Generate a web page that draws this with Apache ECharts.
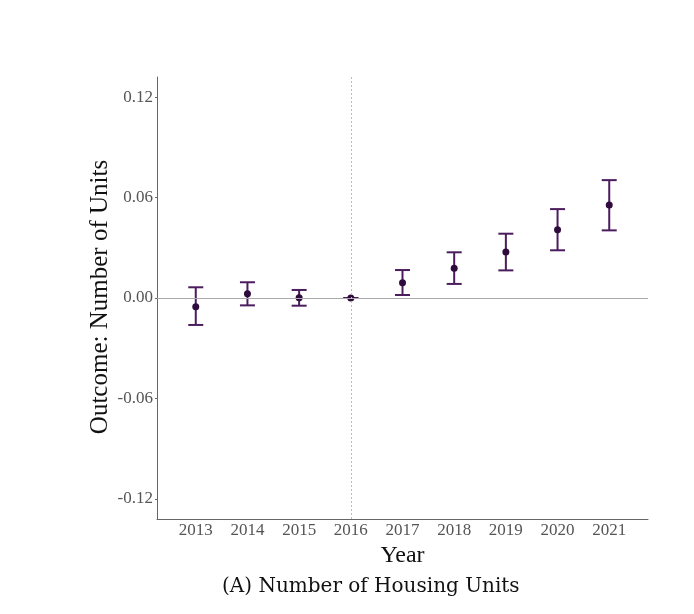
<!DOCTYPE html>
<html><head><meta charset="utf-8">
<script src="https://cdn.jsdelivr.net/npm/echarts@6/dist/echarts.min.js"></script>
<style>html,body{margin:0;padding:0;background:#fff}#c{width:694px;height:614px}</style>
</head><body><div id="c"></div>
<script>
const years = [2013, 2014, 2015, 2016, 2017, 2018, 2019, 2020, 2021];
const estimates = [-0.0052, 0.0026, 0.0002, 0.0, 0.0091, 0.0177, 0.0275, 0.0408, 0.0555];
const lowerCI = [-0.0161, -0.0044, -0.0046, 0.0, 0.0018, 0.0084, 0.0165, 0.0285, 0.0404];
const upperCI = [0.0064, 0.0094, 0.0048, 0.0, 0.0167, 0.0273, 0.0384, 0.0531, 0.0704];
const yTicks = [-0.12, -0.06, 0.00, 0.06, 0.12];
const yTickLabels = ['-0.12', '-0.06', '0.00', '0.06', '0.12'];
const eventYear = 2016;
const yTitle = 'Outcome: Number of Units';
const xTitle = 'Year';
const caption = '(A) Number of Housing Units';

const barColor = '#4b1d5e';
const pointColor = '#2e0b3c';
const serif = '"Liberation Serif", "Times New Roman", serif';

const chart = echarts.init(document.getElementById('c'));
const ciData = years.map((y, i) => [y, lowerCI[i], upperCI[i]]);

chart.setOption({
  animation: false,
  grid: { left: 157, right: 46, top: 77, bottom: 95 },
  xAxis: {
    type: 'value', min: 2012.25, max: 2021.75,
    name: xTitle, nameLocation: 'middle', nameGap: 24,
    nameTextStyle: { fontFamily: serif, fontSize: 24, color: '#111' },
    axisLine: { show: true, onZero: false, lineStyle: { color: '#666', width: 1 } },
    axisTick: { show: false },
    splitLine: { show: false },
    axisLabel: { customValues: years, formatter: v => String(v), fontFamily: serif, fontSize: 17, color: '#555', margin: 3 }
  },
  yAxis: {
    type: 'value', min: -0.132, max: 0.132,
    axisLine: { show: true, onZero: false, lineStyle: { color: '#666', width: 1 } },
    axisTick: { show: true, customValues: yTicks, length: 2, lineStyle: { color: '#666' } },
    splitLine: { show: false },
    axisLabel: {
      customValues: yTicks, fontFamily: serif, fontSize: 17, color: '#555', margin: 4,
      formatter: v => { const i = yTicks.findIndex(t => Math.abs(t - v) < 1e-9); return i >= 0 ? yTickLabels[i] : ''; }
    }
  },
  graphic: [
    {
      type: 'text', x: 100, y: 297, rotation: Math.PI / 2,
      style: { text: yTitle, font: '25px ' + serif, fill: '#111', align: 'center', verticalAlign: 'middle' }
    },
    {
      type: 'text', left: 222, top: 577,
      style: { text: caption, font: '20px "DejaVu Serif", serif', fill: '#111' }
    }
  ],
  series: [
    {
      type: 'line', data: [], silent: true,
      markLine: {
        silent: true, symbol: 'none', label: { show: false },
        data: [
          { yAxis: 0, lineStyle: { color: '#aaa', width: 1, type: 'solid' } },
          { xAxis: eventYear, lineStyle: { color: '#bbb', width: 1, type: [2, 2] } }
        ]
      }
    },
    {
      type: 'custom', data: ciData,
      encode: { x: 0, y: [1, 2] },
      renderItem: (params, api) => {
        const x = api.value(0);
        const lo = api.coord([x, api.value(1)]);
        const hi = api.coord([x, api.value(2)]);
        const hw = 7.5;
        const st = { stroke: barColor, lineWidth: 2, fill: null };
        return {
          type: 'group',
          children: [
            { type: 'line', shape: { x1: lo[0], y1: lo[1], x2: hi[0], y2: hi[1] }, style: st },
            { type: 'line', shape: { x1: lo[0] - hw, y1: lo[1], x2: lo[0] + hw, y2: lo[1] }, style: st },
            { type: 'line', shape: { x1: hi[0] - hw, y1: hi[1], x2: hi[0] + hw, y2: hi[1] }, style: st }
          ]
        };
      },
      z: 3
    },
    {
      type: 'scatter', data: years.map((y, i) => [y, estimates[i]]),
      symbolSize: 7, itemStyle: { color: pointColor, opacity: 1 }, z: 4
    }
  ]
});
</script></body></html>
